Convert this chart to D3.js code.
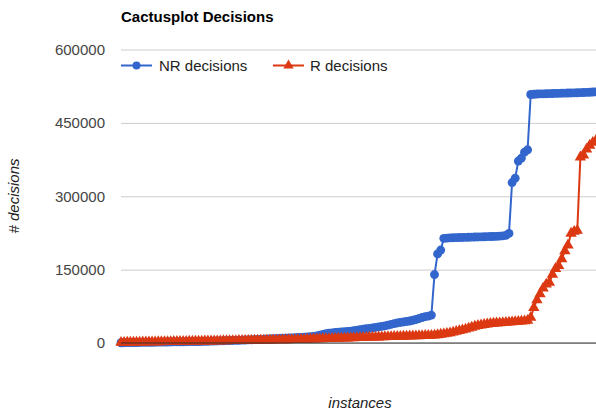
<!DOCTYPE html>
<html><head><meta charset="utf-8">
<script src="https://cdn.jsdelivr.net/npm/d3@7"></script>
<style>
html,body{margin:0;padding:0;background:#fff;overflow:hidden}
svg{display:block}
text{font-family:Arial,"Liberation Sans",sans-serif}
</style></head>
<body><svg id="c" width="596" height="410"></svg>
<script>
const title = "Cactusplot Decisions";
const seriesNames = ["NR decisions", "R decisions"];
const yTicks = [0, 150000, 300000, 450000, 600000];
const xTitle = "instances";
const yTitle = "# decisions";

const nrDecisions = [
 500,600,700,800,900,1000,1100,1200,1300,1400,
 1500,1600,1700,1800,1900,2000,2100,2200,2300,2400,
 2500,2600,2700,2800,2900,3000,3200,3400,3600,3800,
 4000,4200,4400,4600,4800,5000,5200,5400,5600,5800,
 6000,6300,6600,6900,7200,7500,7800,8100,8400,8700,
 9000,9300,9600,9900,10200,10500,10800,11200,11600,12000,
 12500,13000,13500,14500,16000,17500,19000,20000,20800,21500,
 22000,22500,23000,23500,24000,25000,26000,27000,28000,29000,
 30000,31000,32000,33000,34000,35000,36500,38000,39500,41000,
 42000,43000,44000,45000,46500,48000,50000,52000,54000,55000,
 57000,140000,182000,190000,
 214000,214500,215000,215200,215400,215600,215800,216000,216200,216400,
 216600,216800,217000,217200,217400,217600,217800,218000,218500,219000,220000,224000,
 328000,337000,372000,378000,390000,395000,
 508000,508500,509000,509200,509400,509600,509800,510000,510200,510400,
 510600,510800,511000,511200,511400,511600,511800,512000,512300,512600,513000,513400,513800
];

const rDecisions = [
 1000,1100,1200,1300,1400,1500,1600,1700,1800,1900,
 2000,2100,2200,2300,2400,2500,2600,2700,2800,2900,
 3000,3100,3200,3300,3400,3500,3600,3700,3800,3900,
 4000,4100,4200,4300,4400,4500,4600,4700,4800,4900,
 5000,5100,5200,5300,5400,5500,5600,5700,5800,5900,
 6000,6100,6200,6300,6400,6500,6600,6800,7000,7200,
 7400,7600,7800,8000,8200,8400,8600,8800,9000,9200,
 9400,9600,9800,10000,10200,10400,10600,10800,11000,11200,
 11400,11600,11800,12000,12200,12400,12600,12800,13000,13200,
 13400,13600,13800,14000,14200,14400,14600,14800,15000,15200,
 15400,15800,16500,17500,18500,19500,20500,22000,23500,25000,
 26500,28000,30000,32000,34000,35500,36500,37500,38500,39500,
 40000,40500,41000,41500,42000,42500,43000,43500,44000,44500,45000,46000,
 52000,72000,88000,100000,112000,120000,124000,140000,152000,158000,
 172000,188000,200000,224000,228000,230000,380000,384000,396000,404000,
 410000,414000,418000
];

(function () {
const colors = ["#3366cc", "#dc3912"];
const svg = d3.select("#c");
const L = 121, R = 599, T = 49.5, B = 343;

const x = d3.scaleLinear().domain([0, nrDecisions.length - 1]).range([L, R]);
const y = d3.scaleLinear().domain([0, 600000]).range([B, T]);

svg.append("text").attr("x", 121).attr("y", 22)
  .attr("font-size", 15).attr("font-weight", "bold").attr("fill", "#000").text(title);

const yAxis = d3.axisLeft(y).tickValues(yTicks).tickSize(-(R - L)).tickPadding(16).tickFormat(d3.format("d"));
const gy = svg.append("g").attr("transform", `translate(${L},0)`).call(yAxis);
gy.select(".domain").remove();
gy.selectAll(".tick line").attr("stroke", "#cccccc");
gy.selectAll(".tick text").attr("font-size", 15).attr("fill", "#444").attr("font-family", "Arial, 'Liberation Sans', sans-serif");

const line = d3.line().x((d, i) => x(i)).y(d => y(d));
const data = [nrDecisions, rDecisions];
const circle = d3.symbol().type(d3.symbolCircle).size(62);
const tri = d3.symbol().type(d3.symbolTriangle).size(56);

data.forEach((vals, k) => {
  svg.append("path").datum(vals).attr("d", line)
    .attr("fill", "none").attr("stroke", colors[k]).attr("stroke-width", 2);
  svg.append("g").selectAll("path").data(vals).join("path")
    .attr("d", k === 0 ? circle : tri)
    .attr("transform", (d, i) => `translate(${x(i)},${y(d)})`)
    .attr("fill", colors[k]);
});

svg.append("line").attr("x1", L).attr("x2", R).attr("y1", y(0)).attr("y2", y(0))
  .attr("stroke", "#333").attr("stroke-width", 1);

const legendX = [121, 273];
const legCircle = d3.symbol().type(d3.symbolCircle).size(50);
const legTri = d3.symbol().type(d3.symbolTriangle).size(46);
seriesNames.forEach((name, k) => {
  const g = svg.append("g").attr("transform", `translate(${legendX[k]},65.5)`);
  g.append("line").attr("x1", 0).attr("x2", 31).attr("stroke", colors[k]).attr("stroke-width", 2);
  g.append("path").attr("d", (k === 0 ? legCircle : legTri)()).attr("transform", "translate(15.5,0)").attr("fill", colors[k]);
  g.append("text").attr("x", k === 0 ? 38 : 37).attr("dy", "0.35em").attr("font-size", 15).attr("fill", "#222").text(name);
});

svg.append("text").attr("x", (L + R) / 2).attr("y", 408).attr("text-anchor", "middle")
  .attr("font-size", 15).attr("font-style", "italic").attr("fill", "#222").text(xTitle);
svg.append("text").attr("transform", "translate(19,196) rotate(-90)").attr("text-anchor", "middle")
  .attr("font-size", 15).attr("font-style", "italic").attr("fill", "#222").text(yTitle);
})();
</script></body></html>
